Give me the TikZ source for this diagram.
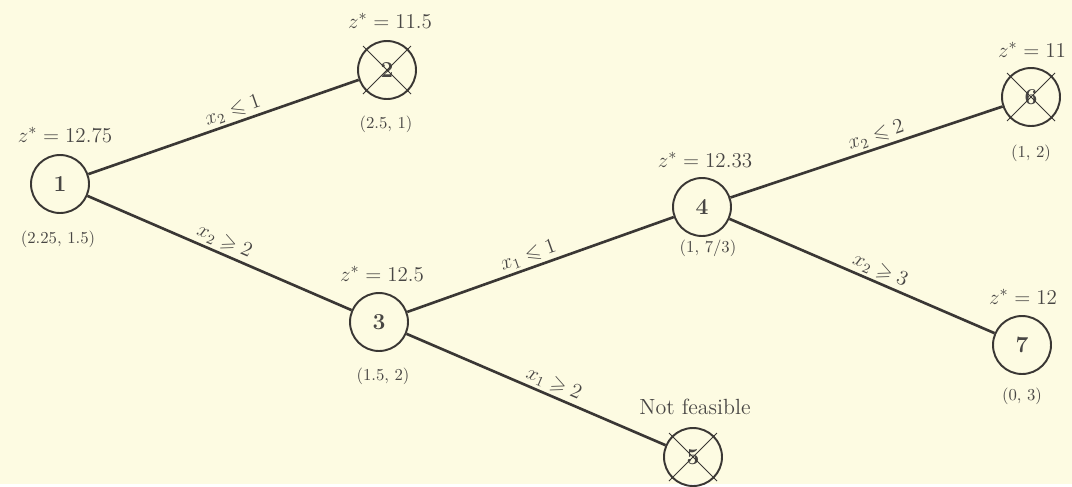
\documentclass[tikz,border=0pt]{standalone}
\usepackage{amssymb}
\usetikzlibrary{calc}
\definecolor{paper}{RGB}{253,251,226}
\definecolor{pencil}{RGB}{58,55,52}
\definecolor{print}{RGB}{72,70,68}
\tikzset{
  bb/.style={circle,draw=pencil,line width=1.1pt,minimum size=11.6mm,inner sep=0pt,
    font=\bfseries\fontsize{13}{15}\selectfont,text=print},
  zval/.style={font=\fontsize{12.5}{14}\selectfont,text=print},
  sol/.style={font=\fontsize{9.5}{11}\selectfont,text=print},
  branch/.style={draw=pencil,line width=1.5pt},
  cond/.style={font=\fontsize{11.5}{13}\selectfont,text=print,sloped,above,inner sep=1.5pt},
  cut/.style={draw=pencil,line width=0.5pt},
}

\begin{document}
\begin{tikzpicture}[x=0.02cm,y=-0.02cm]
  \fill[paper] (0,0) rectangle (1072,484);
  % subproblems
  \node[bb] (n1) at (60,184) {1};
  \node[bb] (n2) at (387,70) {2};
  \node[bb] (n3) at (379,322) {3};
  \node[bb] (n4) at (702,207) {4};
  \node[bb] (n5) at (693,457) {5};
  \node[bb] (n6) at (1031,97) {6};
  \node[bb] (n7) at (1022,345) {7};
  % bounds and LP solutions
  \node[zval] (z1) at (65,135) {$z^* = 12.75$};
  \node[sol] (s1) at (58,239) {(2.25, 1.5)};
  \node[zval] (z2) at (390,21) {$z^* = 11.5$};
  \node[sol] (s2) at (386,124) {(2.5, 1)};
  \node[zval] (z3) at (382,274) {$z^* = 12.5$};
  \node[sol] (s3) at (383,376) {(1.5, 2)};
  \node[zval] (z4) at (705,160) {$z^* = 12.33$};
  \node[sol] (s4) at (708,248) {(1, 7/3)};
  \node[zval] (z5) at (695,407) {Not feasible};
  \node[zval] (z6) at (1032,50) {$z^* = 11$};
  \node[sol] (s6) at (1031,153) {(1, 2)};
  \node[zval] (z7) at (1023,297) {$z^* = 12$};
  \node[sol] (s7) at (1022,396) {(0, 3)};
  % branches
  \draw[branch] (n1) -- node[cond,pos=0.55] (b12) {$x_2 \leqslant 1$} (n2);
  \draw[branch] (n1) -- node[cond] (b13) {$x_2 \geqslant 2$} (n3);
  \draw[branch] (n3) -- node[cond,pos=0.47] (b34) {$x_1 \leqslant 1$} (n4);
  \draw[branch] (n3) -- node[cond,pos=0.55] (b35) {$x_1 \geqslant 2$} (n5);
  \draw[branch] (n4) -- node[cond,pos=0.55] (b46) {$x_2 \leqslant 2$} (n6);
  \draw[branch] (n4) -- node[cond,pos=0.55] (b47) {$x_2 \geqslant 3$} (n7);
  % fathomed nodes
  \foreach \n in {n2,n5,n6} {
    \draw[cut] ($(\n)+(-24,-24)$) -- ($(\n)+(24,24)$);
    \draw[cut] ($(\n)+(-24,24)$) -- ($(\n)+(24,-24)$);
  }
\end{tikzpicture}
\end{document}
